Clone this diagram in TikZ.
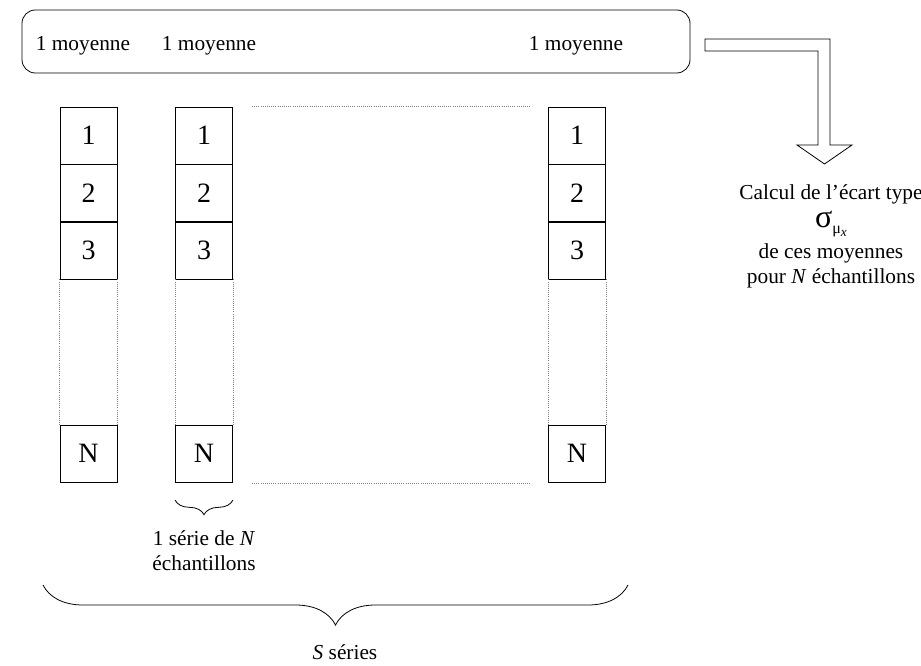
\documentclass[tikz,border=0pt]{standalone}
\usepackage{fontspec}
\setmainfont{Liberation Serif}
\usepackage{tikz}
\usetikzlibrary{decorations.pathreplacing,positioning}
\tikzset{
  case/.style={draw,line width=0.6pt,minimum width=42.75pt,minimum height=42.75pt,inner sep=0pt,font=\fontsize{21}{25}\selectfont},
  txt/.style={font=\fontsize{16}{19}\selectfont,inner sep=0pt},
  pointille/.style={densely dotted,gray,line width=0.6pt},
  accolade/.style={decorate,line width=0.6pt}
}
\begin{document}
\begin{tikzpicture}[x=0.75pt,y=-0.75pt]
\useasboundingbox (0,0) rectangle (921,666);
% cadre des moyennes
\draw[line width=0.6pt,rounded corners=10pt] (22,10) rectangle (690,73);
\node[txt] (m1) at (83,46) {1 moyenne};
\node[txt] (m2) at (209,46) {1 moyenne};
\node[txt] (m3) at (576,46) {1 moyenne};
% colonnes
\node[case] (a1) at (88.5,135.5) {1};
\node[case] (a2) at (88.5,193) {2};
\node[case] (a3) at (88.5,250.5) {3};
\node[case] (aN) at (88.5,453.5) {N};
\node[case] (b1) at (204,135.5) {1};
\node[case] (b2) at (204,193) {2};
\node[case] (b3) at (204,250.5) {3};
\node[case] (bN) at (204,453.5) {N};
\node[case] (c1) at (577,135.5) {1};
\node[case] (c2) at (577,193) {2};
\node[case] (c3) at (577,250.5) {3};
\node[case] (cN) at (577,453.5) {N};
\draw[pointille] (a3.south west)--(aN.north west) (a3.south east)--(aN.north east);
\draw[pointille] (b3.south west)--(bN.north west) (b3.south east)--(bN.north east);
\draw[pointille] (c3.south west)--(cN.north west) (c3.south east)--(cN.north east);
\coordinate (h1) at (252,106);
\coordinate (h2) at (530,106);
\coordinate (h3) at (252,483);
\coordinate (h4) at (530,483);
\draw[pointille] (h1)--(h2);
\draw[pointille] (h3)--(h4);
% accolades
\coordinate (p1) at (233,500);
\coordinate (p2) at (175,500);
\draw[accolade,decoration={brace,amplitude=11pt}] (p1)--(p2);
\node[txt,align=center] (serie) at (204,551) {1 série de \textit{N}\\échantillons};
\coordinate (g1) at (628,585);
\coordinate (g2) at (43,585);
\draw[accolade,decoration={brace,amplitude=30pt}] (g1)--(g2);
\node[txt] (S) at (345,652) {\textit{S} séries};
% fleche creuse
\draw[line width=0.6pt] (705,39)--(830,39)--(830,145)--(852,145)--(824.5,164)--(797,145)--(818,145)--(818,51)--(705,51)--cycle;
\node[txt] (t1) at (831,194) {Calcul de l’écart type};
\node[txt] (t2) at (831,224) {{\fontsize{24}{26}\selectfont σ}\raisebox{-5pt}{\fontsize{12}{14}\selectfont μ\raisebox{-2pt}{\fontsize{10}{12}\selectfont\textit{x}}}};
\node[txt] (t3) at (831,253) {de ces moyennes};
\node[txt] (t4) at (831,278) {pour \textit{N} échantillons};
\end{tikzpicture}
\end{document}
